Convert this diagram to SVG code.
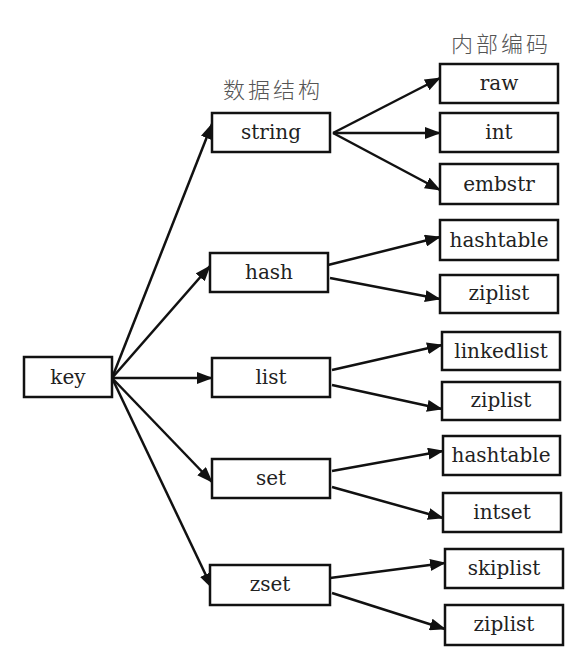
<svg xmlns="http://www.w3.org/2000/svg" width="574" height="667" viewBox="0 0 574 667">
<style>
.box{fill:#fff;stroke:#111;stroke-width:2.5}
.t{font-family:'DejaVu Serif',serif;font-size:20px;fill:#222;text-anchor:middle}
.h{font-family:'Noto Sans CJK SC',sans-serif;font-size:22px;font-weight:300;fill:#555;text-anchor:middle;letter-spacing:3px}
.c{stroke:#111;stroke-width:2.5;fill:none;marker-end:url(#ah)}
</style>
<defs>
<marker id="ah" markerUnits="userSpaceOnUse" markerWidth="16" markerHeight="12" refX="15" refY="6" orient="auto">
<path d="M0,0 L16,6 L0,12 z" fill="#111"/>
</marker>
</defs>
<rect width="574" height="667" fill="#fff"/>
<text class="h" x="273" y="98">数据结构</text>
<text class="h" x="501" y="52">内部编码</text>
<g id="connectors">
<line class="c" x1="112" y1="378" x2="212" y2="124"/>
<line class="c" x1="112" y1="378" x2="210" y2="266"/>
<line class="c" x1="112" y1="378" x2="212" y2="378"/>
<line class="c" x1="112" y1="378" x2="212" y2="482"/>
<line class="c" x1="112" y1="378" x2="212" y2="588"/>
<line class="c" x1="333" y1="133" x2="440" y2="78"/>
<line class="c" x1="333" y1="133" x2="440" y2="133"/>
<line class="c" x1="333" y1="133" x2="440" y2="190"/>
<line class="c" x1="328" y1="265" x2="440" y2="237"/>
<line class="c" x1="330" y1="278" x2="440" y2="299"/>
<line class="c" x1="332" y1="370" x2="442" y2="345"/>
<line class="c" x1="332" y1="385" x2="442" y2="409"/>
<line class="c" x1="332" y1="471" x2="443" y2="451"/>
<line class="c" x1="332" y1="487" x2="443" y2="518"/>
<line class="c" x1="330" y1="578" x2="445" y2="563"/>
<line class="c" x1="332" y1="593" x2="445" y2="629"/>
</g>
<g id="key"><rect class="box" x="24" y="357" width="88" height="40"/><text class="t" x="68" y="384">key</text></g>
<g id="string"><rect class="box" x="212" y="113" width="118" height="39"/><text class="t" x="271" y="139">string</text></g>
<g id="hash"><rect class="box" x="210" y="253" width="118" height="39"/><text class="t" x="269" y="279">hash</text></g>
<g id="list"><rect class="box" x="212" y="358" width="118" height="39"/><text class="t" x="271" y="384">list</text></g>
<g id="set"><rect class="box" x="212" y="459" width="118" height="39"/><text class="t" x="271" y="485">set</text></g>
<g id="zset"><rect class="box" x="210" y="565" width="120" height="40"/><text class="t" x="270" y="591">zset</text></g>
<g id="raw"><rect class="box" x="440" y="64" width="118" height="39"/><text class="t" x="499" y="90">raw</text></g>
<g id="int"><rect class="box" x="440" y="113" width="118" height="39"/><text class="t" x="499" y="139">int</text></g>
<g id="embstr"><rect class="box" x="440" y="164" width="118" height="40"/><text class="t" x="499" y="191">embstr</text></g>
<g id="hashtable1"><rect class="box" x="440" y="220" width="118" height="40"/><text class="t" x="499" y="247">hashtable</text></g>
<g id="ziplist1"><rect class="box" x="440" y="275" width="118" height="38"/><text class="t" x="499" y="300">ziplist</text></g>
<g id="linkedlist"><rect class="box" x="442" y="332" width="118" height="38"/><text class="t" x="501" y="358">linkedlist</text></g>
<g id="ziplist2"><rect class="box" x="442" y="382" width="118" height="38"/><text class="t" x="501" y="407">ziplist</text></g>
<g id="hashtable2"><rect class="box" x="443" y="436" width="117" height="39"/><text class="t" x="501" y="462">hashtable</text></g>
<g id="intset"><rect class="box" x="443" y="493" width="118" height="39"/><text class="t" x="502" y="519">intset</text></g>
<g id="skiplist"><rect class="box" x="445" y="549" width="118" height="39"/><text class="t" x="504" y="575">skiplist</text></g>
<g id="ziplist3"><rect class="box" x="445" y="605" width="118" height="40"/><text class="t" x="504" y="631">ziplist</text></g>
</svg>
